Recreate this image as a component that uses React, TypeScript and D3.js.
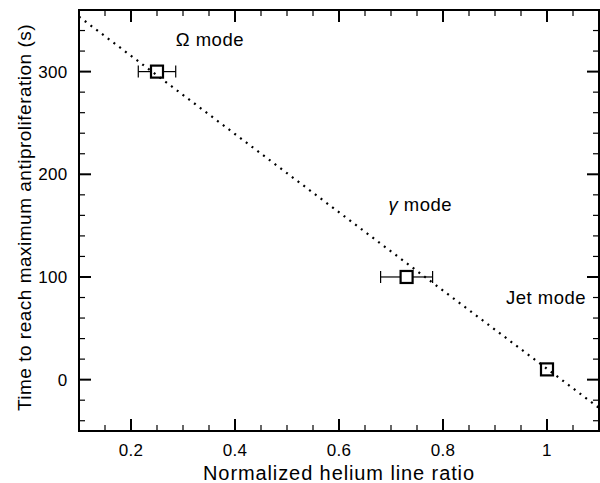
import React from "react";
import * as d3 from "d3";

// ---- data ----
const pointX = [0.25, 0.73, 1.0];
const pointY = [300, 100, 10];
const pointXErr = [0.036, 0.05, 0];
const fitX = [0.1, 1.1];
const fitY = [353.5, -27.5];
const modeLabels = ["Ω mode", "γ mode", "Jet mode"];
const modeLabelX = [0.286, 0.695, 0.921];
const modeLabelY = [325, 164, 74];
const xMajorTicks = [0.2, 0.4, 0.6, 0.8, 1.0];
const yMajorTicks = [0, 100, 200, 300];
const xTitle = "Normalized helium line ratio";
const yTitle = "Time to reach maximum antiproliferation (s)";

const W = 600;
const H = 483;
const L = 79, R = 599, T = 10, B = 431;
const FONT = "'Liberation Sans', Arial, Helvetica, sans-serif";

export default function App() {
  const x = d3.scaleLinear().domain([0.1, 1.1]).range([L, R]);
  const y = d3.scaleLinear().domain([-50, 360]).range([B, T]);

  const xMinor = d3.range(0.15, 1.1, 0.05).filter(
    (v) => !xMajorTicks.some((m) => Math.abs(m - v) < 1e-6)
  );
  const yMinor = d3.range(-40, 360, 20).filter(
    (v) => !yMajorTicks.some((m) => Math.abs(m - v) < 1e-6)
  );

  const line = d3
    .line<number>()
    .x((_, i) => x(fitX[i]))
    .y((d) => y(d));

  const sq = 12;
  const half = sq / 2;

  return (
    <svg
      width={W}
      height={H}
      style={{ position: "absolute", left: 0, top: 0, background: "#fff" }}
      fontFamily={FONT}
    >
      <rect x={0} y={0} width={W} height={H} fill="#fff" />
      {/* fit line */}
      <path
        d={line(fitY) || ""}
        fill="none"
        stroke="#000"
        strokeWidth={2.2}
        strokeDasharray="2,5.2"
      />
      {/* error bars & markers */}
      {pointX.map((px, i) => {
        const cx = x(px);
        const cy = y(pointY[i]);
        const e = pointXErr[i];
        if (e <= 0) return null;
        const x0 = x(px - e);
        const x1 = x(px + e);
        return (
          <g key={"e" + i} stroke="#000" strokeWidth={1.2}>
            <line x1={x0} x2={cx - half} y1={cy} y2={cy} />
            <line x1={cx + half} x2={x1} y1={cy} y2={cy} />
            <line x1={x0} x2={x0} y1={cy - 6} y2={cy + 6} />
            <line x1={x1} x2={x1} y1={cy - 6} y2={cy + 6} />
          </g>
        );
      })}
      {pointX.map((px, i) => (
        <rect
          key={"p" + i}
          x={x(px) - half}
          y={y(pointY[i]) - half}
          width={sq}
          height={sq}
          fill="none"
          stroke="#000"
          strokeWidth={2.2}
        />
      ))}
      {/* ticks */}
      <g stroke="#000">
        {xMajorTicks.map((v) => (
          <g key={"xm" + v} strokeWidth={2}>
            <line x1={x(v)} x2={x(v)} y1={B} y2={B - 12} />
            <line x1={x(v)} x2={x(v)} y1={T} y2={T + 12} />
          </g>
        ))}
        {xMinor.map((v) => (
          <g key={"xn" + v} strokeWidth={1.2}>
            <line x1={x(v)} x2={x(v)} y1={B} y2={B - 6} />
            <line x1={x(v)} x2={x(v)} y1={T} y2={T + 6} />
          </g>
        ))}
        {yMajorTicks.map((v) => (
          <g key={"ym" + v} strokeWidth={2}>
            <line x1={L} x2={L + 12} y1={y(v)} y2={y(v)} />
            <line x1={R} x2={R - 12} y1={y(v)} y2={y(v)} />
          </g>
        ))}
        {yMinor.map((v) => (
          <g key={"yn" + v} strokeWidth={1.2}>
            <line x1={L} x2={L + 6} y1={y(v)} y2={y(v)} />
            <line x1={R} x2={R - 6} y1={y(v)} y2={y(v)} />
          </g>
        ))}
      </g>
      {/* frame */}
      <rect
        x={L}
        y={T}
        width={R - L}
        height={B - T}
        fill="none"
        stroke="#000"
        strokeWidth={2}
      />
      {/* tick labels */}
      <g fontSize={17} fill="#000" letterSpacing={0.3}>
        {xMajorTicks.map((v) => (
          <text key={"xl" + v} x={x(v)} y={455.5} textAnchor="middle">
            {d3.format("~g")(v)}
          </text>
        ))}
        {yMajorTicks.map((v) => (
          <text key={"yl" + v} x={67.5} y={y(v)} dy="0.35em" textAnchor="end">
            {v}
          </text>
        ))}
      </g>
      {/* annotations */}
      <g fontSize={18.5} fill="#000" letterSpacing={0.5}>
        {modeLabels.map((t, i) => (
          <text key={"m" + i} x={x(modeLabelX[i])} y={y(modeLabelY[i])}>
            {t.startsWith("γ") ? (
              <>
                <tspan fontStyle="italic">γ</tspan>
                {t.slice(1)}
              </>
            ) : (
              t
            )}
          </text>
        ))}
      </g>
      {/* axis titles */}
      <text
        x={(L + R) / 2}
        y={480}
        textAnchor="middle"
        fontSize={20}
        letterSpacing={0.9}
        fill="#000"
      >
        {xTitle}
      </text>
      <text
        transform={`translate(31, ${(T + B) / 2 - 3}) rotate(-90)`}
        textAnchor="middle"
        fontSize={19}
        letterSpacing={0.5}
        fill="#000"
      >
        {yTitle}
      </text>
    </svg>
  );
}
